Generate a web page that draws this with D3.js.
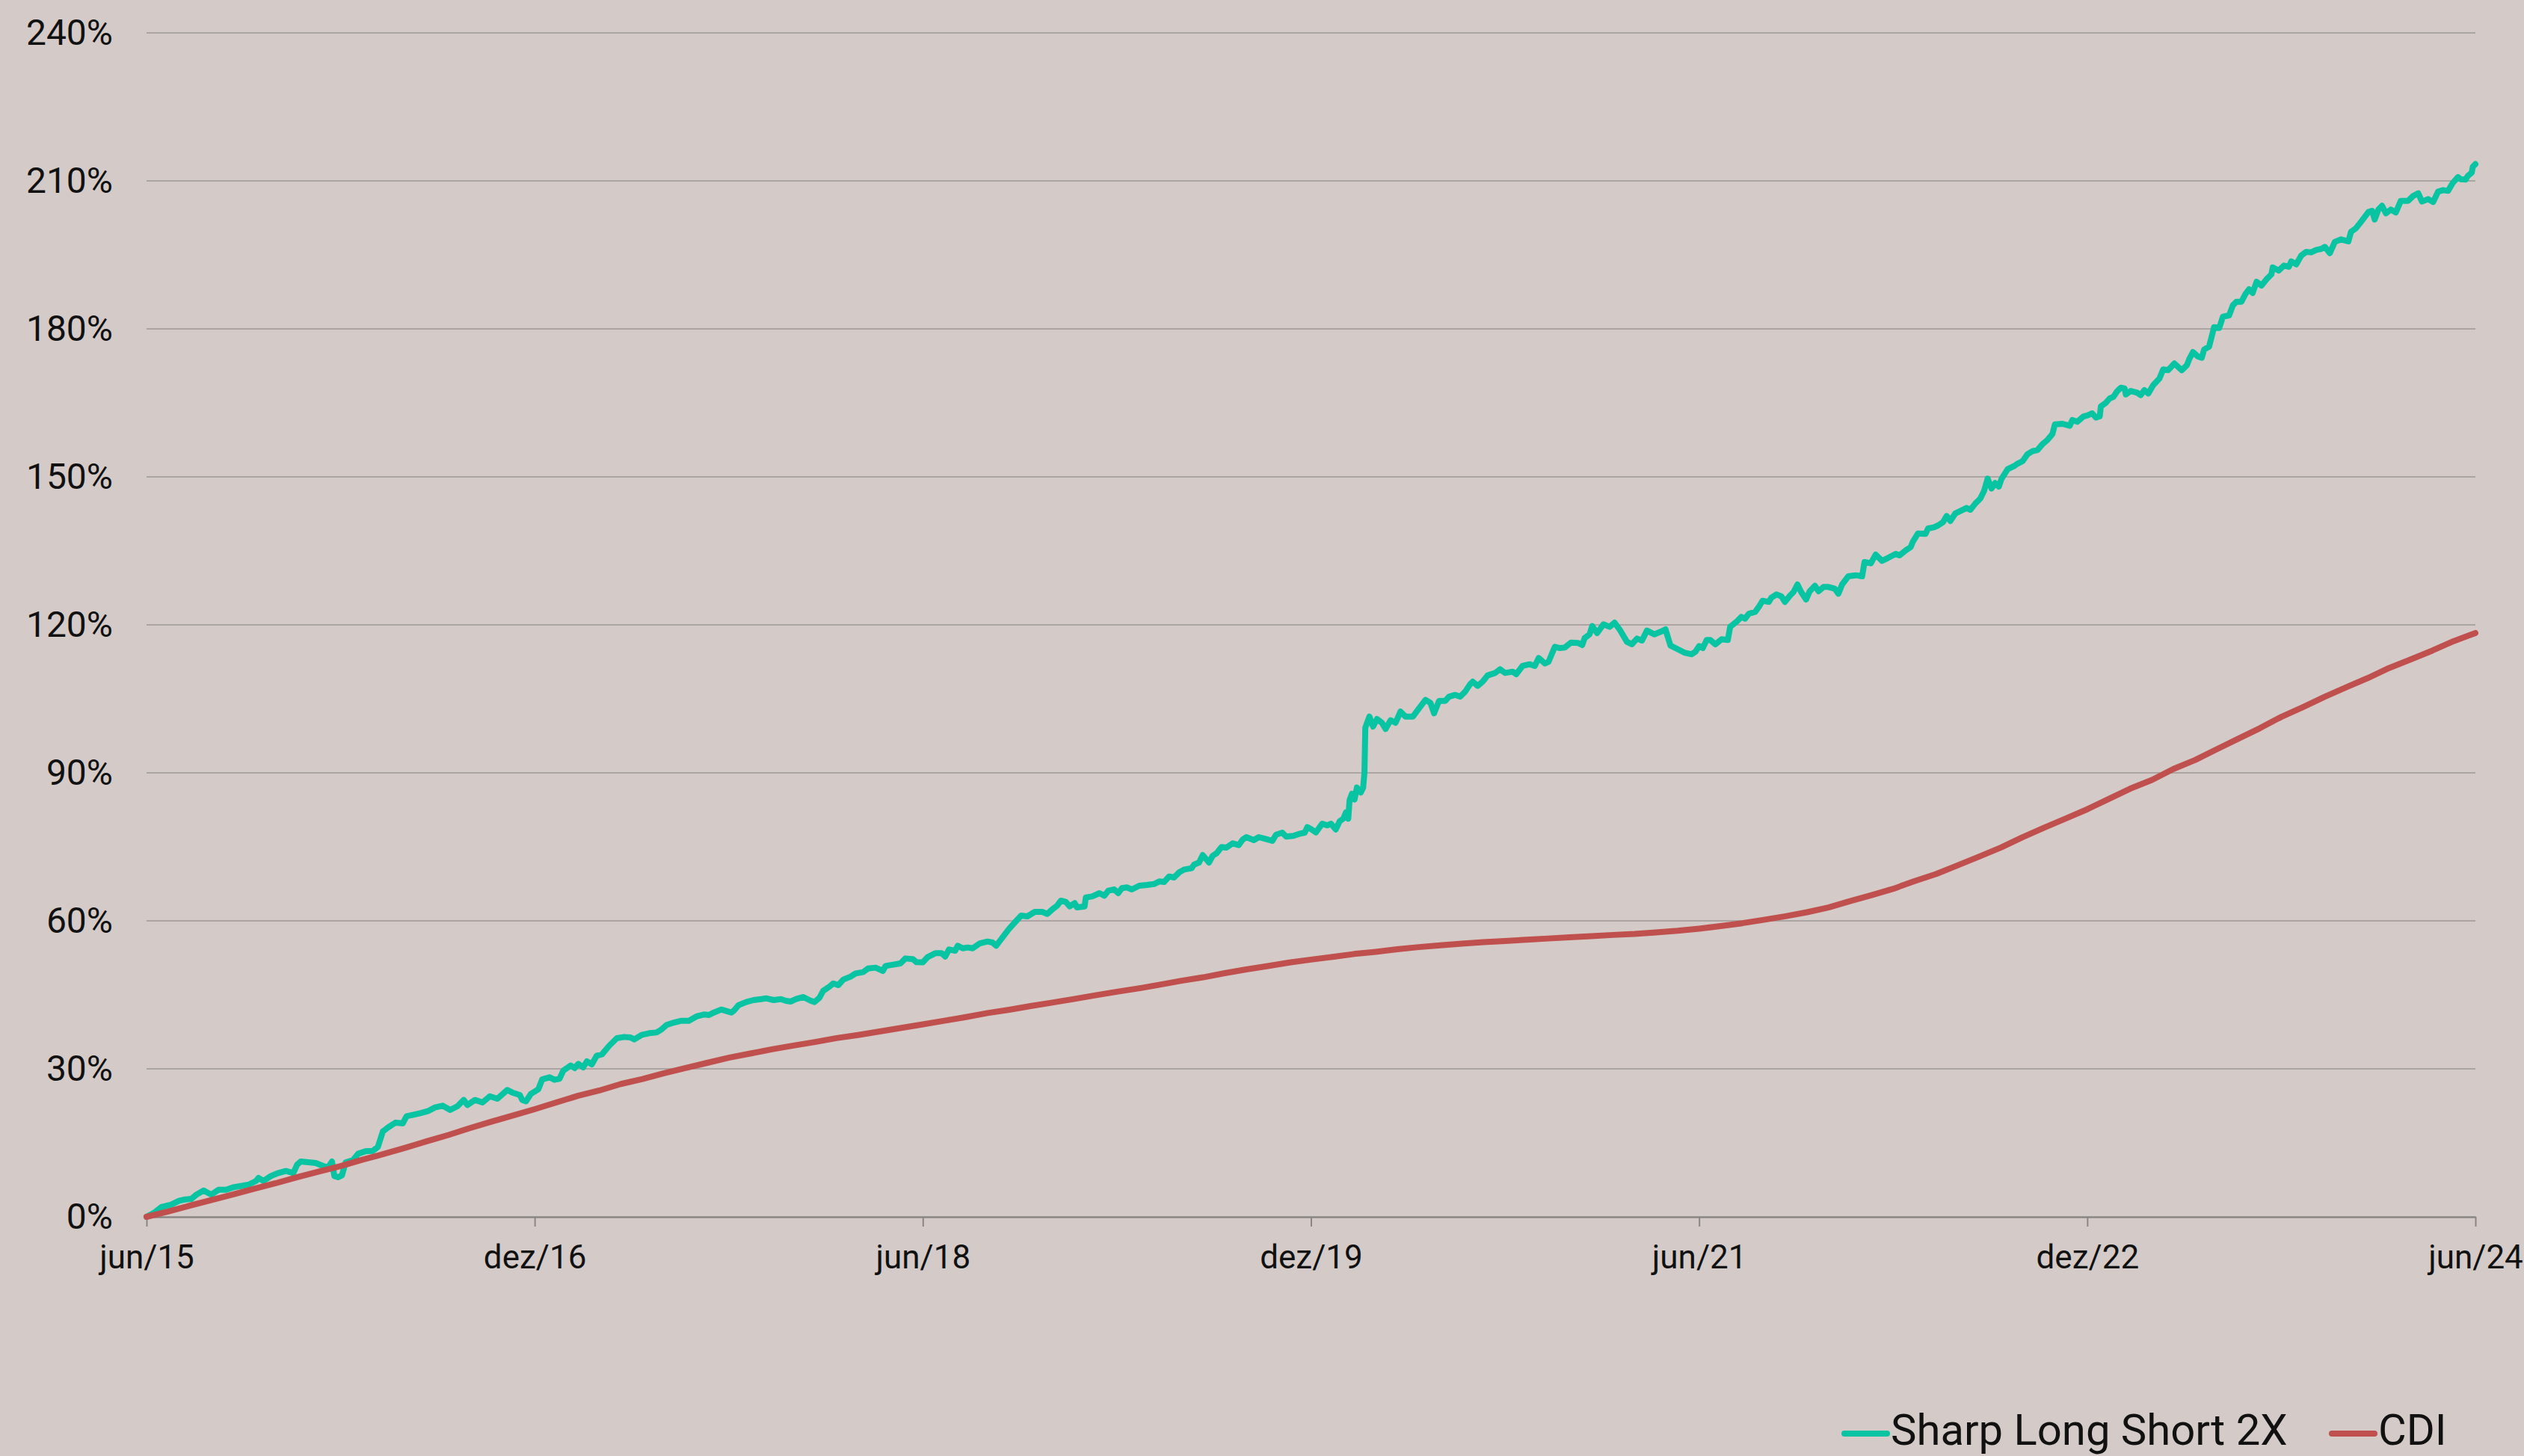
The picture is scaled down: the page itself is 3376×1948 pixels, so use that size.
<!DOCTYPE html>
<html><head><meta charset="utf-8">
<script src="https://cdn.jsdelivr.net/npm/d3@7"></script>
<style>html,body{margin:0;padding:0;background:#d4cbc8;} svg{display:block;font-family:Roboto,"Noto Sans",sans-serif;}</style>
</head><body><svg id="chart" width="3376" height="1948"></svg>
<script>
// ---- data ----
const xTickMonths = [0, 18, 36, 54, 72, 90, 108];
const xTickLabels = ["jun/15", "dez/16", "jun/18", "dez/19", "jun/21", "dez/22", "jun/24"];
const yTicks = [0, 30, 60, 90, 120, 150, 180, 210, 240];
const seriesNames = ["Sharp Long Short 2X", "CDI"];
const seriesColors = ["#08c4a2", "#c0504d"];

// months since jun/15
const sharpMonths = [
0,0.35,0.69,1.15,1.50,1.73,2.08,2.31,2.65,3.00,3.35,3.69,4.04,4.38,4.73,5.08,5.19,5.42,5.77,6.12,6.46,6.81,6.98,7.15,7.50,7.85,8.19,8.42,8.60,8.71,8.88,9.06,9.23,9.58,9.81,10.15,10.50,10.73,10.96,11.19,11.54,11.88,12.06,12.35,12.69,13.04,13.38,13.73,14.08,14.42,14.71,14.88,15.23,15.58,15.92,16.27,16.73,16.96,17.31,17.42,17.60,17.83,
18.00,18.17,18.35,18.69,18.92,19.15,19.33,19.67,19.85,20.02,20.25,20.42,20.65,20.88,21.12,21.46,21.81,22.15,22.44,22.62,22.96,23.31,23.65,23.88,24.12,24.46,24.81,25.15,25.50,25.85,26.08,26.31,26.65,27.12,27.23,27.46,27.81,28.15,28.50,28.73,29.08,29.42,29.65,29.88,30.12,30.46,30.81,30.98,31.21,31.38,31.67,31.85,32.08,32.31,32.65,32.88,33.23,33.46,33.81,34.15,34.27,34.62,34.96,35.19,35.54,35.71,
36.00,36.23,36.58,36.87,37.04,37.21,37.50,37.62,37.85,38.08,38.31,38.65,39.00,39.23,39.40,39.69,39.98,40.27,40.56,40.85,41.19,41.54,41.77,42.00,42.23,42.40,42.63,42.81,43.04,43.15,43.50,43.56,43.85,44.19,44.42,44.60,44.88,45.06,45.23,45.46,45.69,46.04,46.38,46.73,46.96,47.19,47.42,47.65,47.88,48.12,48.46,48.58,48.81,48.98,49.27,49.44,49.62,49.85,50.08,50.37,50.65,50.83,51.00,51.35,51.58,51.92,52.21,52.38,52.67,52.85,53.19,53.42,53.71,53.83,
54.00,54.23,54.52,54.75,54.92,55.15,55.33,55.50,55.62,55.73,55.79,55.90,56.02,56.13,56.31,56.42,56.48,56.52,56.71,56.88,57.06,57.29,57.46,57.69,57.92,58.15,58.38,58.73,58.96,59.31,59.54,59.71,59.94,60.23,60.40,60.69,60.92,61.15,61.38,61.50,61.73,61.96,62.19,62.54,62.77,63.00,63.35,63.52,63.81,64.15,64.38,64.56,64.85,65.02,65.31,65.54,65.77,66.06,66.40,66.58,66.69,66.92,67.04,67.27,67.56,67.85,68.08,68.31,68.65,68.88,69.12,69.35,69.58,69.92,70.21,70.44,70.67,70.90,71.31,71.65,71.83,
72.00,72.17,72.35,72.52,72.75,73.04,73.33,73.44,73.73,73.96,74.13,74.31,74.60,74.77,74.94,75.23,75.35,75.58,75.81,75.98,76.21,76.38,76.56,76.73,76.96,77.13,77.37,77.54,77.77,78.00,78.29,78.46,78.63,78.92,79.27,79.56,79.67,79.96,80.19,80.48,80.77,81.12,81.29,81.58,81.81,81.92,82.15,82.50,82.62,82.90,83.08,83.31,83.48,83.65,83.88,84.12,84.40,84.58,84.81,85.04,85.21,85.38,85.56,85.73,85.90,86.02,86.31,86.60,86.77,87.00,87.23,87.46,87.69,87.92,88.15,88.38,88.50,88.85,89.19,89.31,89.54,89.83,
90.00,90.23,90.40,90.58,90.63,90.87,91.04,91.21,91.38,91.56,91.73,91.79,92.02,92.31,92.48,92.65,92.83,93.06,93.35,93.52,93.75,94.04,94.38,94.62,94.73,94.90,95.13,95.31,95.42,95.65,95.77,95.88,96.12,96.29,96.58,96.75,96.92,97.15,97.33,97.50,97.67,97.85,98.08,98.31,98.54,98.60,98.88,99.12,99.35,99.46,99.69,99.92,100.15,100.38,100.62,100.85,101.02,101.25,101.48,101.77,102.11,102.23,102.46,102.69,103.04,103.21,103.33,103.50,103.67,103.85,104.08,104.31,104.54,104.88,105.12,105.35,105.52,105.81,106.04,106.27,106.50,106.73,106.96,107.19,107.31,107.54,107.65,107.83,107.88,108.00
];
const sharpValues = [
0,0.81,1.97,2.47,3.23,3.48,3.64,4.49,5.35,4.49,5.50,5.50,6.01,6.26,6.52,7.27,7.88,7.27,8.28,8.89,9.29,8.89,10.56,11.21,11.06,10.91,10.30,10.05,11.21,8.28,8.03,8.38,11.01,11.52,12.78,13.28,13.38,14.19,17.32,18.08,19.09,18.94,20.40,20.66,21.01,21.41,22.17,22.53,21.67,22.42,23.69,22.68,23.69,23.18,24.44,23.94,25.71,25.20,24.70,23.69,23.43,24.95,
25.40,25.86,27.87,28.28,27.78,27.98,29.65,30.66,30.15,31.01,30.30,31.52,30.91,32.68,32.93,34.70,36.21,36.46,36.36,35.96,36.87,37.22,37.37,37.98,38.89,39.39,39.75,39.75,40.61,41.01,40.91,41.41,42.02,41.41,41.77,42.93,43.54,43.94,44.14,44.29,43.94,44.14,43.79,43.64,44.14,44.55,43.79,43.54,44.44,45.81,46.67,47.32,46.97,48.08,48.69,49.34,49.60,50.35,50.51,49.85,50.86,51.11,51.36,52.37,52.22,51.62,
51.60,52.68,53.43,53.43,52.78,54.19,53.94,54.95,54.44,54.60,54.44,55.45,55.81,55.61,54.95,56.62,58.28,59.70,61.06,60.91,61.82,61.82,61.41,62.32,63.08,64.09,63.84,62.93,63.59,62.73,62.93,64.75,64.95,65.61,65.10,66.11,66.36,65.61,66.62,66.77,66.36,67.12,67.27,67.47,67.98,67.88,68.99,68.79,69.80,70.40,70.66,71.41,71.82,73.33,71.82,73.18,73.69,74.95,74.85,75.71,75.35,76.46,76.97,76.36,76.97,76.57,76.21,77.47,77.88,77.07,77.22,77.58,77.88,78.99,
78.60,77.93,79.70,79.34,79.70,78.54,80.20,80.71,81.97,80.71,84.49,85.76,84.60,87.02,86.01,87.02,90.05,99.14,101.41,99.39,100.91,100.15,98.89,100.66,100.15,102.42,101.41,101.41,102.78,104.80,104.19,102.07,104.60,104.60,105.45,105.81,105.45,106.46,107.98,108.48,107.63,108.48,109.75,110.25,111.01,110.25,110.51,110.00,111.67,112.02,111.67,113.28,112.17,112.53,115.56,115.30,115.40,116.41,116.31,115.91,117.32,118.08,119.75,118.33,120.10,119.60,120.45,119.09,116.57,116.06,117.22,116.82,118.84,118.08,118.59,119.09,115.81,115.30,114.39,114.04,114.55,
115.70,115.30,116.92,116.92,116.06,117.07,116.92,119.60,120.61,121.62,121.26,122.27,122.63,123.64,124.90,124.65,125.51,126.16,125.81,124.65,125.91,126.67,128.18,126.67,125.15,126.82,127.93,126.82,127.68,127.68,127.32,126.31,128.18,129.85,130.05,129.85,132.73,132.47,134.24,132.98,133.59,134.39,134.09,135.10,135.76,136.92,138.54,138.43,139.55,139.80,140.15,140.81,142.07,141.06,142.58,143.08,143.69,143.33,144.60,145.61,147.12,149.65,147.63,148.74,148.03,149.55,151.57,152.17,152.68,153.18,154.60,155.20,155.45,156.62,157.47,158.64,160.66,160.76,160.35,161.52,161.16,162.27,
162.45,162.88,162.02,162.27,164.29,165.05,165.91,166.21,167.32,168.08,167.93,166.72,167.42,167.07,166.57,167.58,166.92,168.59,169.95,171.77,171.62,172.98,171.62,172.63,173.89,175.30,174.39,174.14,175.81,176.41,178.43,180.35,180.20,182.47,182.73,184.75,185.51,185.51,187.02,188.03,187.27,189.55,188.79,190.05,191.06,192.47,191.82,192.83,192.58,193.69,193.08,194.85,195.61,195.51,196.01,196.21,196.62,195.35,197.63,198.13,197.73,199.65,200.40,201.67,203.69,203.94,202.17,204.19,204.95,203.43,204.19,203.59,205.96,205.96,206.97,207.47,205.81,206.31,205.71,207.83,208.13,207.98,209.65,210.76,210.35,210.25,211.01,211.67,212.88,213.40
];

// CDI, one value per month since jun/15
const cdiValues = [
0,1.07,2.26,3.40,4.54,5.70,6.82,8.06,9.20,10.29,11.57,12.74,13.99,15.31,16.59,18.00,19.31,20.56,21.82,23.18,24.53,25.61,26.93,27.93,29.12,30.17,31.21,32.26,33.10,33.95,34.72,35.44,36.23,36.86,37.58,38.30,39.02,39.75,40.50,41.30,41.97,42.73,43.43,44.14,44.91,45.62,46.30,47.06,47.86,48.55,49.40,50.15,50.84,51.56,52.14,52.70,53.28,53.72,54.24,54.68,55.05,55.37,55.67,55.92,56.17,56.42,56.65,56.90,57.14,57.34,57.66,57.99,58.42,58.93,59.52,60.21,60.93,61.74,62.72,64.00,65.22,66.49,68.07,69.50,71.27,73.05,74.87,76.94,78.88,80.74,82.62,84.70,86.81,88.56,90.80,92.59,94.78,96.90,99.04,101.35,103.33,105.41,107.33,109.20,111.26,112.98,114.78,116.72,118.35
];
const cdiMonths = cdiValues.map((v, i) => i);

// ---- drawing ----
const svg = d3.select("#chart");
svg.append("rect").attr("width", 3376).attr("height", 1948).attr("fill", "#d4cbc8");

const x = d3.scaleLinear().domain([0, 108]).range([196, 3311]);
const y = d3.scaleLinear().domain([0, 240]).range([1628, 44]);

// gridlines
svg.append("g").selectAll("line").data(yTicks.filter(d => d > 0)).join("line")
  .attr("x1", x(0)).attr("x2", x(108))
  .attr("y1", d => y(d)).attr("y2", d => y(d))
  .attr("stroke", "#aaa5a2").attr("stroke-width", 2);

// y axis labels
const yAxis = svg.append("g").attr("transform", `translate(${x(0)},0)`)
  .call(d3.axisLeft(y).tickValues(yTicks).tickFormat(d => d + "%").tickSize(0).tickPadding(45));
yAxis.select(".domain").remove();
yAxis.selectAll("text").attr("font-size", 48).attr("fill", "#111").attr("font-family", "Roboto");

// x axis
const xAxis = svg.append("g").attr("transform", `translate(0,${y(0)})`)
  .call(d3.axisBottom(x).tickValues(xTickMonths).tickFormat((d, i) => xTickLabels[i]).tickSize(13).tickSizeOuter(0).tickPadding(25));
xAxis.select(".domain").attr("stroke", "#8a8684").attr("stroke-width", 2.5);
xAxis.selectAll(".tick line").attr("stroke", "#8a8684").attr("stroke-width", 2);
xAxis.selectAll("text").attr("font-size", 44).attr("fill", "#111").attr("font-family", "Roboto");

const line = d3.line().x(d => x(d[0])).y(d => y(d[1]));

svg.append("path")
  .datum(sharpMonths.map((m, i) => [m, sharpValues[i]]))
  .attr("d", line).attr("fill", "none").attr("stroke", seriesColors[0])
  .attr("stroke-width", 8).attr("stroke-linejoin", "round").attr("stroke-linecap", "round");

svg.append("path")
  .datum(cdiMonths.map((m, i) => [m, cdiValues[i]]))
  .attr("d", line).attr("fill", "none").attr("stroke", seriesColors[1])
  .attr("stroke-width", 8).attr("stroke-linejoin", "round").attr("stroke-linecap", "round");

// legend
const legendX = [2467, 3119];
const leg = svg.append("g");
seriesNames.forEach((name, i) => {
  leg.append("line").attr("x1", legendX[i]).attr("x2", legendX[i] + 57)
    .attr("y1", 1918).attr("y2", 1918)
    .attr("stroke", seriesColors[i]).attr("stroke-width", 8).attr("stroke-linecap", "round");
  leg.append("text").attr("x", legendX[i] + 62).attr("y", 1933)
    .attr("font-size", 58).attr("fill", "#111").attr("font-family", "Roboto").text(name);
});
</script></body></html>
